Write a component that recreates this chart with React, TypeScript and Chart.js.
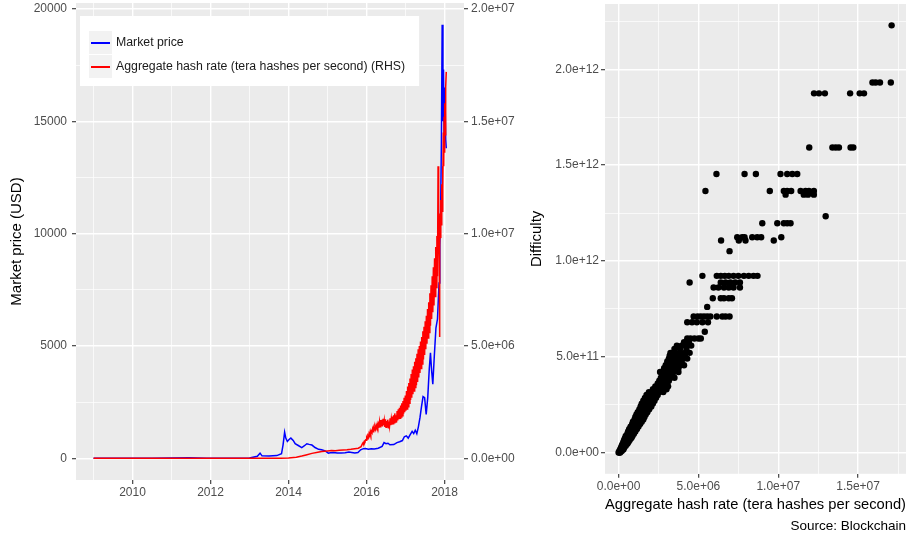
import React, { useEffect, useRef } from 'react';
import { Chart, registerables } from 'chart.js';

Chart.register(...registerables);

const FONT = '"Liberation Sans", Arial, Helvetica, sans-serif';

// ---------- Left panel: market price & hash rate over time ----------
const priceDates = [
  2009.0, 2010.5, 2011.45, 2011.9, 2012.5, 2013.0, 2013.2, 2013.27, 2013.32, 2013.5, 2013.7, 2013.82,
  2013.86, 2013.9, 2013.93, 2013.97, 2014.02, 2014.06, 2014.12, 2014.17, 2014.25, 2014.34, 2014.4,
  2014.47, 2014.53, 2014.6, 2014.68, 2014.77, 2014.85, 2014.94, 2015.02, 2015.07, 2015.15, 2015.25,
  2015.35, 2015.45, 2015.55, 2015.62, 2015.7, 2015.78, 2015.85, 2015.92, 2015.97, 2016.05, 2016.12,
  2016.2, 2016.3, 2016.4, 2016.45, 2016.5, 2016.55, 2016.6, 2016.7, 2016.78, 2016.85, 2016.92, 2016.97,
  2017.02, 2017.07, 2017.12, 2017.17, 2017.21, 2017.25, 2017.29, 2017.33, 2017.37, 2017.41, 2017.45,
  2017.49, 2017.53, 2017.57, 2017.61, 2017.64, 2017.67, 2017.7, 2017.74, 2017.78, 2017.82, 2017.86,
  2017.88, 2017.9, 2017.92, 2017.94, 2017.96, 2017.975, 2017.99, 2018.01, 2018.03, 2018.045,
];
const priceUSD = [
  0, 0.06, 20, 3, 7, 13, 90, 230, 110, 100, 120, 200,
  600, 1160, 900, 750, 850, 900, 800, 650, 570, 480, 550,
  650, 620, 590, 480, 400, 380, 330, 230, 250, 260, 240,
  235, 250, 280, 260, 240, 260, 380, 430, 440, 400, 430,
  420, 450, 530, 700, 650, 670, 600, 610, 700, 740, 790, 960,
  1000, 900, 1050, 1200, 1100, 1250, 1100, 1400, 1800, 2300, 2750,
  2700, 1950, 2700, 4000, 4700, 3900, 3300, 4600, 5800, 6200, 7800,
  9500, 11000, 14000, 19300, 15000, 17300, 14500, 16500, 14200, 13800,
];

const hashDates = [
  2009.0, 2010.0, 2011.0, 2012.0, 2013.0, 2013.5, 2013.8, 2014.0, 2014.2, 2014.34, 2014.45, 2014.6,
  2014.75, 2014.85, 2015.0, 2015.1, 2015.2, 2015.3, 2015.4, 2015.5, 2015.6, 2015.7, 2015.79, 2015.86,
  2015.9, 2015.915, 2015.93, 2015.945, 2015.96, 2015.975, 2015.99, 2016.005, 2016.02, 2016.035,
  2016.05, 2016.065, 2016.08, 2016.095, 2016.11, 2016.125, 2016.14, 2016.155, 2016.17, 2016.185,
  2016.2, 2016.215, 2016.23, 2016.245, 2016.26, 2016.275, 2016.29, 2016.305, 2016.32, 2016.335,
  2016.35, 2016.365, 2016.38, 2016.395, 2016.41, 2016.425, 2016.44, 2016.455, 2016.47, 2016.485,
  2016.5, 2016.515, 2016.53, 2016.545, 2016.56, 2016.575, 2016.59, 2016.605, 2016.62, 2016.635,
  2016.65, 2016.665, 2016.68, 2016.695, 2016.71, 2016.725, 2016.74, 2016.755, 2016.77, 2016.785,
  2016.8, 2016.815, 2016.83, 2016.845, 2016.86, 2016.875, 2016.89, 2016.905, 2016.92, 2016.935,
  2016.95, 2016.965, 2016.98, 2016.995, 2017.01, 2017.025, 2017.04, 2017.055, 2017.07, 2017.085,
  2017.1, 2017.115, 2017.13, 2017.145, 2017.16, 2017.175, 2017.19, 2017.205, 2017.22, 2017.235,
  2017.25, 2017.265, 2017.28, 2017.295, 2017.31, 2017.325, 2017.34, 2017.355, 2017.37, 2017.385,
  2017.4, 2017.415, 2017.43, 2017.445, 2017.46, 2017.475, 2017.49, 2017.505, 2017.52, 2017.535,
  2017.55, 2017.565, 2017.58, 2017.595, 2017.61, 2017.625, 2017.64, 2017.655, 2017.67, 2017.685,
  2017.7, 2017.715, 2017.73, 2017.745, 2017.76, 2017.775, 2017.79, 2017.805, 2017.82, 2017.835,
  2017.845, 2017.855, 2017.865, 2017.873, 2017.88, 2017.89, 2017.9, 2017.91, 2017.92, 2017.93,
  2017.94, 2017.95, 2017.96, 2017.97, 2017.98, 2017.99, 2018.0, 2018.01, 2018.02, 2018.03, 2018.045,
];
const hashRateTHs = [
  0, 0, 8, 15, 25, 600, 4000, 12000, 45000, 100000, 150000, 220000,
  270000, 300000, 330000, 345000, 335000, 360000, 370000, 380000, 400000, 430000, 450000, 520000,
  660000, 700000, 680000, 760000, 740000, 820000, 800000, 920000, 860000, 1000000,
  950000, 1100000, 1020000, 1180000, 1060000, 1200000, 1150000, 1300000, 1180000, 1340000,
  1260000, 1400000, 1300000, 1450000, 1360000, 1520000, 1400000, 1520000, 1360000, 1620000,
  1400000, 1700000, 1460000, 1720000, 1420000, 1760000, 1480000, 1680000, 1400000, 1740000,
  1380000, 1660000, 1420000, 1720000, 1360000, 1640000, 1440000, 1780000, 1480000, 1740000,
  1500000, 1860000, 1540000, 1920000, 1580000, 2000000, 1620000, 1920000, 1600000, 2100000,
  1680000, 2180000, 1740000, 2250000, 1780000, 2350000, 1840000, 2450000, 1900000, 2550000,
  1980000, 2700000, 2050000, 2800000, 2120000, 3000000, 2200000, 3200000, 2300000, 3350000,
  2450000, 3550000, 2600000, 3750000, 2700000, 3950000, 2850000, 4100000, 3000000, 4300000,
  3150000, 4450000, 3250000, 4650000, 3400000, 4850000, 3600000, 5000000, 3800000, 5200000,
  4000000, 5400000, 4200000, 5650000, 4400000, 5850000, 4600000, 6100000, 4850000, 6350000,
  5100000, 6650000, 5350000, 6950000, 5600000, 7350000, 5900000, 7700000, 6200000, 8100000,
  6500000, 8500000, 6800000, 8900000, 7200000, 9400000, 7600000, 9900000, 8100000, 13000000,
  9200000, 10200000, 8800000, 5400000, 9400000, 10900000, 9800000, 11500000, 10400000, 12200000,
  11000000, 13000000, 12000000, 14500000, 13000000, 15200000, 13600000, 15800000, 14400000, 16500000, 17200000,
];

const yearTicks = [2009, 2010, 2011, 2012, 2013, 2014, 2015, 2016, 2017, 2018];
const yearMajor = [2010, 2012, 2014, 2016, 2018];
const priceTicks = [0, 2500, 5000, 7500, 10000, 12500, 15000, 17500, 20000];
const priceMajor = [0, 5000, 10000, 15000, 20000];
const hashAxisTicks = [0, 5e6, 1e7, 1.5e7, 2e7];

const legendLabels = ['Market price', 'Aggregate hash rate (tera hashes per second) (RHS)'];
const priceColor = '#0000FF';
const hashColor = '#FF0000';
const legendColors = [priceColor, hashColor];

// ---------- Right panel: difficulty vs hash rate ----------
const difficultyLevels = [
  0, 0.008e12, 0.016e12, 0.025e12, 0.035e12, 0.045e12, 0.055e12, 0.065e12, 0.075e12, 0.086e12,
  0.098e12, 0.11e12, 0.122e12, 0.135e12, 0.148e12, 0.16e12, 0.172e12, 0.185e12, 0.198e12, 0.21e12,
  0.225e12, 0.24e12, 0.255e12, 0.27e12, 0.285e12, 0.3e12, 0.315e12, 0.33e12, 0.345e12, 0.36e12,
  0.375e12, 0.39e12, 0.405e12, 0.42e12, 0.44e12, 0.455e12, 0.475e12, 0.49e12, 0.505e12, 0.52e12,
  0.54e12, 0.558e12, 0.575e12, 0.595e12, 0.63e12, 0.68e12, 0.71e12, 0.76e12, 0.805e12, 0.861e12,
  0.887e12, 0.922e12, 1.051e12, 1.107e12, 1.124e12, 1.197e12, 1.233e12, 1.346e12, 1.365e12, 1.454e12,
  1.592e12, 1.875e12, 1.932e12, 2.23e12,
];
const hashAtLevel = [
  [0, 0.05e6, 0.1e6],
  [0.05e6, 0.12e6, 0.2e6],
  [0.1e6, 0.2e6, 0.3e6],
  [0.15e6, 0.25e6, 0.35e6],
  [0.2e6, 0.32e6, 0.45e6],
  [0.25e6, 0.4e6, 0.55e6],
  [0.3e6, 0.45e6, 0.62e6],
  [0.35e6, 0.52e6, 0.7e6],
  [0.4e6, 0.6e6, 0.8e6],
  [0.45e6, 0.65e6, 0.87e6],
  [0.55e6, 0.75e6, 0.96e6],
  [0.6e6, 0.82e6, 1.05e6],
  [0.66e6, 0.9e6, 1.15e6],
  [0.75e6, 1.0e6, 1.25e6],
  [0.85e6, 1.1e6, 1.35e6],
  [0.9e6, 1.15e6, 1.45e6],
  [1.0e6, 1.25e6, 1.55e6],
  [1.05e6, 1.35e6, 1.62e6],
  [1.12e6, 1.4e6, 1.7e6],
  [1.2e6, 1.5e6, 1.8e6],
  [1.3e6, 1.6e6, 1.92e6],
  [1.38e6, 1.7e6, 2.05e6],
  [1.45e6, 1.8e6, 2.15e6],
  [1.55e6, 1.9e6, 2.25e6],
  [1.65e6, 2.0e6, 2.35e6],
  [1.75e6, 2.1e6, 2.45e6],
  [1.9e6, 2.2e6, 2.55e6, 2.8e6],
  [2.15e6, 2.45e6, 2.75e6, 3.0e6],
  [2.3e6, 2.6e6, 2.9e6, 3.1e6],
  [2.45e6, 2.75e6, 3.05e6],
  [2.55e6, 2.85e6, 3.15e6],
  [2.65e6, 2.95e6, 3.25e6, 3.5e6],
  [2.75e6, 3.05e6, 3.35e6],
  [2.6e6, 2.85e6, 3.15e6, 3.45e6, 3.75e6],
  [2.85e6, 3.15e6, 3.45e6, 3.75e6],
  [2.95e6, 3.25e6, 3.55e6, 3.85e6, 4.1e6],
  [3.05e6, 3.35e6, 3.65e6, 3.95e6],
  [3.15e6, 3.45e6, 3.75e6, 4.05e6, 4.3e6],
  [3.2e6, 3.5e6, 3.85e6, 4.15e6],
  [3.25e6, 3.55e6, 3.85e6, 4.15e6, 4.45e6],
  [3.5e6, 3.85e6, 4.25e6],
  [3.65e6, 3.95e6, 4.25e6, 4.55e6],
  [4.1e6, 4.4e6],
  [4.3e6, 4.5e6, 4.75e6, 5.0e6, 5.15e6],
  [5.4e6],
  [4.3e6, 4.6e6, 4.9e6, 5.25e6, 5.6e6],
  [4.7e6, 4.95e6, 5.15e6, 5.35e6, 5.55e6, 5.75e6, 6.15e6, 6.5e6, 6.7e6, 6.95e6],
  [5.55e6],
  [5.9e6, 6.4e6, 6.6e6, 6.9e6, 7.1e6],
  [5.95e6, 6.25e6, 6.6e6, 6.9e6, 7.2e6, 7.6e6],
  [4.45e6, 6.4e6, 6.7e6, 7.0e6, 7.3e6, 7.6e6],
  [5.25e6, 6.15e6, 6.4e6, 6.65e6, 6.9e6, 7.2e6, 7.5e6, 7.85e6, 8.15e6, 8.45e6, 8.7e6],
  [6.95e6],
  [6.42e6, 7.53e6, 7.95e6, 9.72e6],
  [7.43e6, 7.74e6, 7.89e6, 8.37e6, 8.68e6, 8.93e6, 10.19e6],
  [9.0e6, 9.94e6, 10.35e6, 10.56e6, 10.77e6],
  [12.97e6],
  [10.46e6, 11.6e6, 11.86e6, 12.23e6],
  [5.44e6, 9.47e6, 10.35e6, 10.56e6, 10.81e6, 11.4e6, 11.71e6, 11.92e6, 12.23e6],
  [6.13e6, 7.89e6, 8.6e6, 10.14e6, 10.56e6, 10.88e6, 11.19e6],
  [11.94e6, 13.39e6, 13.6e6, 13.8e6, 14.53e6, 14.7e6],
  [12.24e6, 12.55e6, 12.92e6, 14.5e6, 15.1e6, 15.37e6],
  [15.9e6, 16.1e6, 16.37e6, 17.05e6],
  [17.1e6],
];
const scatterXTicks = [0, 2.5e6, 5e6, 7.5e6, 1e7, 1.25e7, 1.5e7, 1.75e7];
const scatterXMajor = [0, 5e6, 1e7, 1.5e7];
const scatterYTicks = [0, 0.25e12, 0.5e12, 0.75e12, 1e12, 1.25e12, 1.5e12, 1.75e12, 2e12, 2.25e12];
const scatterYMajor = [0, 0.5e12, 1e12, 1.5e12, 2e12];

// ---------- helpers ----------
function sci(v: number): string {
  if (v === 0) return '0.0e+00';
  const e = Math.floor(Math.log10(Math.abs(v)) + 1e-9);
  const m = v / Math.pow(10, e);
  return m.toFixed(1) + 'e' + (e < 0 ? '-' : '+') + String(Math.abs(e)).padStart(2, '0');
}

const TICK_FONT = { family: FONT, size: 12 };
const TITLE_FONT = { family: FONT, size: 15 };

function gridFor(majors: number[], onArea = true) {
  return {
    drawOnChartArea: onArea,
    color: '#FFFFFF',
    lineWidth: (c: any) => (majors.includes(c.tick?.value) ? 1.4 : 0.7),
    tickColor: (c: any) => (majors.includes(c.tick?.value) ? '#333333' : 'rgba(0,0,0,0)'),
    tickLength: 4,
    tickWidth: 1.1,
  };
}

function setTicks(values: number[]) {
  return (scale: any) => {
    scale.ticks = values.map((v) => ({ value: v }));
  };
}

function fixSize(opts: { width?: number; height?: number }) {
  return (scale: any) => {
    if (opts.width !== undefined) scale.width = opts.width;
    if (opts.height !== undefined) scale.height = opts.height;
    scale.paddingTop = 0;
    scale.paddingBottom = 0;
    scale.paddingLeft = 0;
    scale.paddingRight = 0;
  };
}

const panelBackground = {
  id: 'panelBackground',
  beforeDraw(chart: any) {
    const { ctx, chartArea } = chart;
    ctx.save();
    ctx.fillStyle = '#EBEBEB';
    ctx.fillRect(chartArea.left, chartArea.top, chartArea.right - chartArea.left, chartArea.bottom - chartArea.top);
    ctx.restore();
  },
};

const ggLegend = {
  id: 'ggLegend',
  afterDraw(chart: any) {
    const { ctx, chartArea } = chart;
    const x0 = chartArea.left + 4;
    const y0 = chartArea.top + 13;
    const keyW = 23, keyH = 24, padL = 9, gap = 4, padR = 14, padT = 15, padB = 7;
    ctx.save();
    ctx.font = `12.3px ${FONT}`;
    const textW = Math.max(...legendLabels.map((t) => ctx.measureText(t).width));
    const w = padL + keyW + gap + textW + padR;
    const h = padT + keyH * legendLabels.length + padB;
    ctx.fillStyle = '#FFFFFF';
    ctx.fillRect(x0, y0, w, h);
    legendLabels.forEach((label, i) => {
      const ky = y0 + padT + i * keyH;
      ctx.fillStyle = '#F2F2F2';
      ctx.fillRect(x0 + padL, ky, keyW, keyH - 1);
      ctx.strokeStyle = legendColors[i];
      ctx.lineWidth = 2;
      ctx.beginPath();
      ctx.moveTo(x0 + padL + 2, ky + keyH / 2);
      ctx.lineTo(x0 + padL + keyW - 2, ky + keyH / 2);
      ctx.stroke();
      ctx.fillStyle = '#1A1A1A';
      ctx.textBaseline = 'middle';
      ctx.textAlign = 'left';
      ctx.fillText(label, x0 + padL + keyW + gap, ky + keyH / 2);
    });
    ctx.restore();
  },
};

export default function App() {
  const leftRef = useRef<HTMLCanvasElement | null>(null);
  const rightRef = useRef<HTMLCanvasElement | null>(null);

  useEffect(() => {
    if (!leftRef.current || !rightRef.current) return;

    const left = new Chart(leftRef.current, {
      type: 'line',
      data: {
        datasets: [
          {
            label: legendLabels[0],
            data: priceDates.map((x, i) => ({ x, y: priceUSD[i] })),
            borderColor: priceColor,
            backgroundColor: priceColor,
            borderWidth: 1.5,
            pointRadius: 0,
            tension: 0,
            yAxisID: 'y',
            order: 2,
          },
          {
            label: legendLabels[1],
            data: hashDates.map((x, i) => ({ x, y: hashRateTHs[i] })),
            borderColor: hashColor,
            backgroundColor: hashColor,
            borderWidth: 1.5,
            pointRadius: 0,
            tension: 0,
            yAxisID: 'y1',
            order: 1,
          },
        ],
      },
      options: {
        responsive: false,
        animation: false,
        layout: { padding: { top: 3, left: 0, right: 0, bottom: 0 } },
        plugins: { legend: { display: false }, tooltip: { enabled: false } },
        scales: {
          x: {
            type: 'linear',
            min: 2008.55,
            max: 2018.5,
            afterBuildTicks: setTicks(yearTicks),
            afterFit: fixSize({ height: 60 }),
            border: { display: false },
            grid: gridFor(yearMajor),
            ticks: {
              autoSkip: false,
              maxRotation: 0,
              padding: 1,
              color: '#4D4D4D',
              font: TICK_FONT,
              callback: (v: any) => (yearMajor.includes(v) ? String(v) : ''),
            },
          },
          y: {
            type: 'linear',
            position: 'left',
            min: -965,
            max: 20265,
            afterBuildTicks: setTicks(priceTicks),
            afterFit: fixSize({ width: 76 }),
            border: { display: false },
            grid: gridFor(priceMajor),
            title: {
              display: true,
              text: 'Market price (USD)',
              color: '#000000',
              font: TITLE_FONT,
              padding: { top: 8, bottom: 0 },
            },
            ticks: {
              autoSkip: false,
              padding: 5,
              color: '#4D4D4D',
              font: TICK_FONT,
              callback: (v: any) => (priceMajor.includes(v) ? String(v) : ''),
            },
          },
          y1: {
            type: 'linear',
            position: 'right',
            min: -965000,
            max: 20265000,
            afterBuildTicks: setTicks(hashAxisTicks),
            afterFit: fixSize({ width: 56 }),
            border: { display: false },
            grid: gridFor(hashAxisTicks, false),
            ticks: {
              autoSkip: false,
              padding: 3,
              color: '#4D4D4D',
              font: TICK_FONT,
              callback: (v: any) => sci(v),
            },
          },
        },
      } as any,
      plugins: [panelBackground, ggLegend],
    });

    const scatterData: { x: number; y: number }[] = [];
    difficultyLevels.forEach((d, i) => {
      hashAtLevel[i].forEach((h) => scatterData.push({ x: h, y: d }));
    });

    const right = new Chart(rightRef.current, {
      type: 'scatter',
      data: {
        datasets: [
          {
            label: 'Difficulty',
            data: scatterData,
            backgroundColor: '#000000',
            borderColor: '#000000',
            borderWidth: 0,
            pointRadius: 3.2,
          },
        ],
      },
      options: {
        responsive: false,
        animation: false,
        layout: { padding: { top: 3, left: 0, right: 8, bottom: 0 } },
        plugins: {
          legend: { display: false },
          tooltip: { enabled: false },
          title: {
            display: true,
            position: 'bottom',
            align: 'end',
            text: 'Source: Blockchain',
            color: '#000000',
            font: { family: FONT, size: 13.5, weight: 'normal' },
            padding: { top: 0, bottom: 6 },
          },
        },
        scales: {
          x: {
            type: 'linear',
            min: -0.85e6,
            max: 18.0e6,
            afterBuildTicks: setTicks(scatterXTicks),
            afterFit: fixSize({ height: 44 }),
            border: { display: false },
            grid: gridFor(scatterXMajor),
            title: {
              display: true,
              text: 'Aggregate hash rate (tera hashes per second)',
              color: '#000000',
              font: TITLE_FONT,
              padding: { top: 0, bottom: 4 },
            },
            ticks: {
              autoSkip: false,
              maxRotation: 0,
              padding: 2,
              color: '#4D4D4D',
              font: TICK_FONT,
              callback: (v: any) => (scatterXMajor.includes(v) ? sci(v) : ''),
            },
          },
          y: {
            type: 'linear',
            min: -0.1115e12,
            max: 2.3415e12,
            afterBuildTicks: setTicks(scatterYTicks),
            afterFit: fixSize({ width: 85 }),
            border: { display: false },
            grid: gridFor(scatterYMajor),
            title: {
              display: true,
              text: 'Difficulty',
              color: '#000000',
              font: TITLE_FONT,
              padding: { top: 8, bottom: 0 },
            },
            ticks: {
              autoSkip: false,
              padding: 2,
              color: '#4D4D4D',
              font: TICK_FONT,
              callback: (v: any) => (scatterYMajor.includes(v) ? sci(v) : ''),
            },
          },
        },
      } as any,
      plugins: [panelBackground],
    });

    return () => {
      left.destroy();
      right.destroy();
    };
  }, []);

  return (
    <div style={{ position: 'absolute', left: 0, top: 0, width: 914, height: 540, background: '#FFFFFF' }}>
      <canvas ref={leftRef} width={520} height={540} style={{ position: 'absolute', left: 0, top: 0, width: 520, height: 540 }} />
      <canvas ref={rightRef} width={394} height={540} style={{ position: 'absolute', left: 520, top: 0, width: 394, height: 540 }} />
    </div>
  );
}
